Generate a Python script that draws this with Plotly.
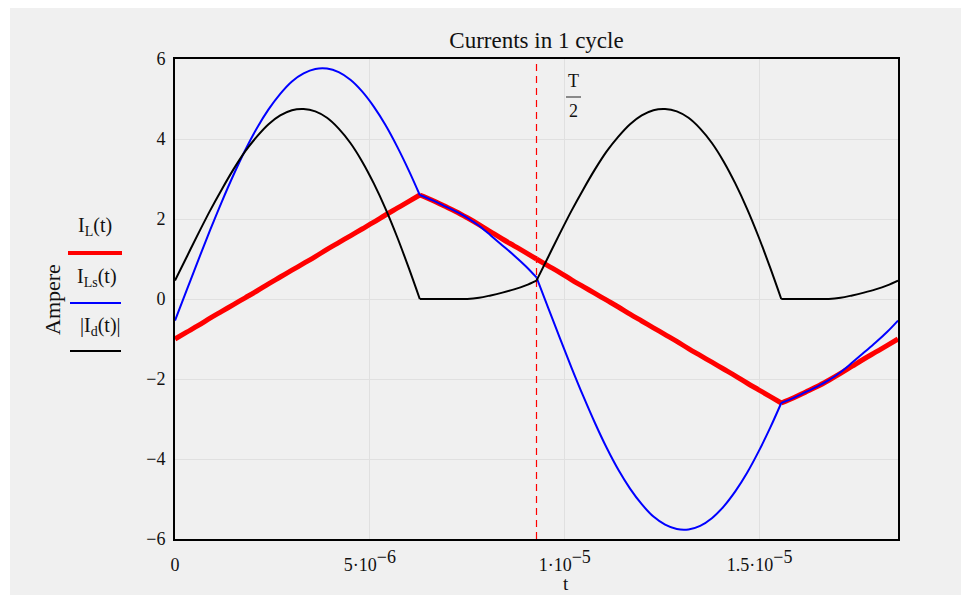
import plotly.graph_objects as go

# ---- data (time in microseconds, currents in ampere) ----
t_us = [0, 0.3, 0.6, 0.9, 1.2, 1.5, 1.8, 2.1, 2.4, 2.7, 3.0, 3.3, 3.6, 3.9, 4.2, 4.5,
        4.8, 5.1, 5.4, 5.7, 6.0, 6.28, 6.6, 6.9, 7.2, 7.5, 7.8, 8.1, 8.4, 8.7, 9.0, 9.275,
        9.575, 9.875, 10.175, 10.475, 10.775, 11.075, 11.375, 11.675, 11.975, 12.275,
        12.575, 12.875, 13.175, 13.475, 13.775, 14.075, 14.375, 14.675, 14.975, 15.275,
        15.555, 15.875, 16.175, 16.475, 16.775, 17.075, 17.375, 17.675, 17.975, 18.275, 18.55]

I_L = [-1.00, -0.83, -0.66, -0.48, -0.31, -0.14, 0.03, 0.20, 0.38, 0.55, 0.72, 0.89, 1.06,
       1.24, 1.41, 1.58, 1.75, 1.92, 2.10, 2.27, 2.44, 2.60, 2.47, 2.33, 2.19, 2.03, 1.86,
       1.68, 1.50, 1.33, 1.16, 1.00,
       0.83, 0.66, 0.48, 0.31, 0.14, -0.03, -0.20, -0.38, -0.55, -0.72, -0.89, -1.06,
       -1.24, -1.41, -1.58, -1.75, -1.92, -2.10, -2.27, -2.44, -2.60, -2.47, -2.33, -2.19,
       -2.03, -1.86, -1.68, -1.50, -1.33, -1.16, -1.00]

I_Ls = [-0.54, 0.22, 0.98, 1.72, 2.43, 3.10, 3.72, 4.27, 4.74, 5.13, 5.44, 5.64, 5.75,
        5.76, 5.67, 5.48, 5.19, 4.81, 4.35, 3.81, 3.21, 2.60, 2.47, 2.33, 2.19, 2.03, 1.83,
        1.59, 1.34, 1.09, 0.82, 0.54,
        -0.22, -0.98, -1.72, -2.43, -3.10, -3.72, -4.27, -4.74, -5.13, -5.44, -5.64, -5.75,
        -5.76, -5.67, -5.48, -5.19, -4.81, -4.35, -3.81, -3.21, -2.60, -2.47, -2.33, -2.19,
        -2.03, -1.83, -1.59, -1.34, -1.09, -0.82, -0.54]

I_d_abs = [0.46, 1.05, 1.64, 2.21, 2.74, 3.24, 3.69, 4.06, 4.37, 4.59, 4.72, 4.75, 4.69,
           4.53, 4.26, 3.90, 3.44, 2.89, 2.26, 1.55, 0.77, 0.00, 0.00, 0.00, 0.00, 0.00,
           0.03, 0.09, 0.16, 0.24, 0.34, 0.46,
           1.05, 1.64, 2.21, 2.74, 3.24, 3.69, 4.06, 4.37, 4.59, 4.72, 4.75, 4.69,
           4.53, 4.26, 3.90, 3.44, 2.89, 2.26, 1.55, 0.77, 0.00, 0.00, 0.00, 0.00, 0.00,
           0.03, 0.09, 0.16, 0.24, 0.34, 0.46]

# indices in t_us where the waveforms change from one conduction interval to the next
breaks = [0, 21, 31, 52, 62]

T_half = 9.275
x_range = [0, 18.55]
y_range = [-6, 6]
x_tickvals = [0, 5, 10, 15]
x_ticktext = ["0",
              "5·10<sup><span style='font-size:18px'>−6</span></sup>",
              "1·10<sup><span style='font-size:18px'>−5</span></sup>",
              "1.5·10<sup><span style='font-size:18px'>−5</span></sup>"]
y_tickvals = [-6, -4, -2, 0, 2, 4, 6]
y_ticktext = ["−6", "−4", "−2", "0", "2", "4", "6"]

FONT = "Liberation Serif, Times New Roman, serif"
BG = "#f2f2f2"

fig = go.Figure()
fig.add_trace(go.Scatter(x=[T_half, T_half], y=y_range, mode="lines",
                         line=dict(color="#ff0000", width=1.2, dash="7px,5px"),
                         showlegend=False, hoverinfo="skip"))


def add_series(values, name, color, width):
    for a, b in zip(breaks[:-1], breaks[1:]):
        fig.add_trace(go.Scatter(x=t_us[a:b + 1], y=values[a:b + 1], mode="lines",
                                 name=name, legendgroup=name, showlegend=False,
                                 line=dict(color=color, width=width, shape="spline",
                                           smoothing=1.0)))


add_series(I_L, "I_L(t)", "#ff0000", 5)
add_series(I_Ls, "I_Ls(t)", "#0000ff", 2)
add_series(I_d_abs, "|I_d(t)|", "#000000", 2)

L, R, T, B = 175, 63, 59, 56
PW, PH = 961 - L - R, 595 - T - B


def px(xp):
    return (xp - L) / PW


def py(yp):
    return (595 - B - yp) / PH


shapes = [
    dict(type="rect", xref="paper", yref="paper", x0=px(10), x1=px(961), y0=py(595), y1=py(8),
         fillcolor="#f0f0f0", line=dict(width=0), layer="below"),
    # legend samples
    dict(type="line", xref="paper", yref="paper", x0=px(68), x1=px(122), y0=py(253), y1=py(253),
         line=dict(color="#ff0000", width=4)),
    dict(type="line", xref="paper", yref="paper", x0=px(70), x1=px(121), y0=py(303), y1=py(303),
         line=dict(color="#0000ff", width=2)),
    dict(type="line", xref="paper", yref="paper", x0=px(70), x1=px(121), y0=py(351), y1=py(351),
         line=dict(color="#000000", width=2)),
    # fraction bar of T/2
    dict(type="line", xref="paper", yref="paper", x0=px(566), x1=px(581), y0=py(97), y1=py(97),
         line=dict(color="#222222", width=1)),
]


def note(text, x, y, size, **kw):
    d = dict(text=text, x=px(x), y=py(y), xref="paper", yref="paper",
             xanchor="center", yanchor="middle", showarrow=False,
             font=dict(size=size, family=FONT, color="#111"))
    d.update(kw)
    return d


annots = [
    note("I<sub>L</sub>(t)", 95, 226, 20),
    note("I<sub>Ls</sub>(t)", 97, 277, 20),
    note("|I<sub>d</sub>(t)|", 100, 326, 20),
    note("Ampere", 52, 300, 22, textangle=-90),
    note("t", 566, 583, 19),
    note("T", 573.5, 81, 18),
    note("2", 573.5, 111, 18),
]

fig.update_layout(
    width=961, height=595,
    margin=dict(l=L, r=R, t=T, b=B),
    paper_bgcolor="#ffffff", plot_bgcolor=BG,
    font=dict(family=FONT, size=18, color="#111"),
    title=dict(text="Currents in 1 cycle", x=(L + PW / 2) / 961, xanchor="center",
               y=1 - 40 / 595, yanchor="middle", yref="container",
               font=dict(size=23, family=FONT, color="#111")),
    showlegend=False,
    shapes=shapes,
    annotations=annots,
)
fig.update_xaxes(range=x_range, tickvals=x_tickvals, ticktext=x_ticktext,
                 showgrid=True, gridcolor="#e0e0e0", gridwidth=1, zeroline=False,
                 showline=True, linecolor="#000", linewidth=2, mirror=True,
                 ticks="", ticklabelstandoff=8, tickfont=dict(size=18, family=FONT))
fig.update_yaxes(range=y_range, tickvals=y_tickvals, ticktext=y_ticktext,
                 showgrid=True, gridcolor="#e0e0e0", gridwidth=1, zeroline=False,
                 showline=True, linecolor="#000", linewidth=2, mirror=True,
                 ticks="", ticklabelstandoff=4, tickfont=dict(size=18, family=FONT))

fig.write_html("out.html")
